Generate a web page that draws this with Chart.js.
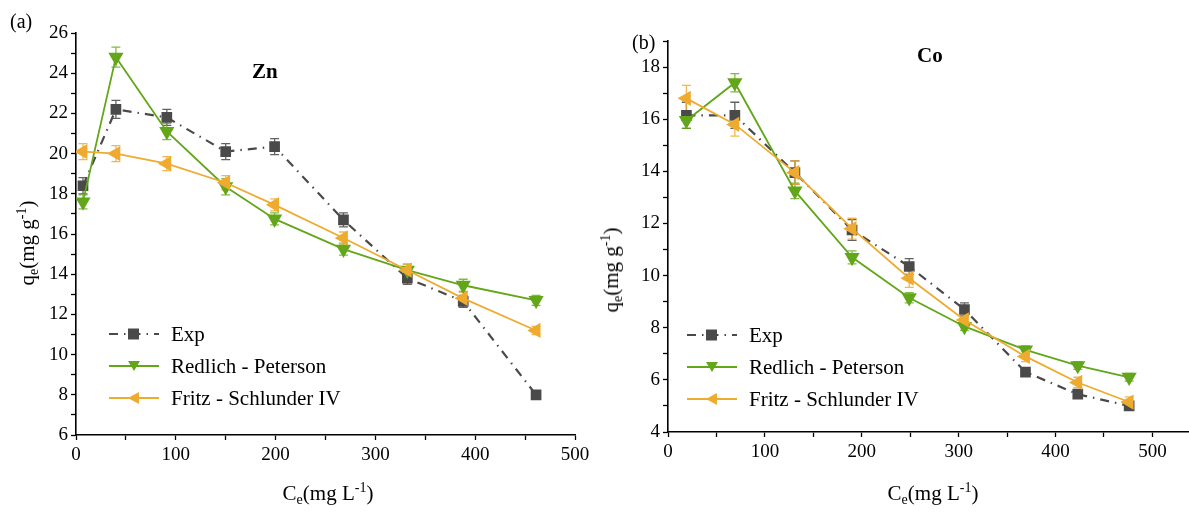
<!DOCTYPE html>
<html>
<head>
<meta charset="utf-8">
<script src="https://cdn.jsdelivr.net/npm/chart.js@4.4.1/dist/chart.umd.min.js"></script>
<style>
  body { margin: 0; background: #fff; width: 1189px; height: 512px; overflow: hidden; position: relative; font-family: "Liberation Serif", "DejaVu Serif", serif; }
  .panel { position: absolute; top: 0; }
  .txt { position: absolute; color: #000; white-space: nowrap; font-family: "Liberation Serif", serif; }
  .ttl { font-weight: bold; font-size: 21px; }
  .ax { font-size: 21px; }
  .ax sub { font-size: 14px; vertical-align: -4px; }
  .ax sup { font-size: 14px; vertical-align: 8px; }
  .leg { position: absolute; font-size: 21px; }
  .leg div { height: 32px; display: flex; align-items: center; }
  .leg svg { margin-right: 12px; }
</style>
</head>
<body>
<div class="panel" style="left:0"><canvas id="zn" width="600" height="512"></canvas></div>
<div class="panel" style="left:600px"><canvas id="co" width="598" height="512"></canvas></div>

<div class="txt" style="left:10px;top:10px;font-size:20px">(a)</div>
<div class="txt" style="left:632px;top:31px;font-size:20px">(b)</div>
<div class="txt ttl" style="left:252px;top:59px">Zn</div>
<div class="txt ttl" style="left:917px;top:43px">Co</div>

<div class="txt ax" style="left:28px;top:243px;transform:translate(-50%,-50%) rotate(-90deg)">q<sub>e</sub>(mg g<sup>-1</sup>)</div>
<div class="txt ax" style="left:612px;top:270px;transform:translate(-50%,-50%) rotate(-90deg)">q<sub>e</sub>(mg g<sup>-1</sup>)</div>
<div class="txt ax" style="left:328px;top:494px;transform:translate(-50%,-50%)">C<sub>e</sub>(mg L<sup>-1</sup>)</div>
<div class="txt ax" style="left:933px;top:494px;transform:translate(-50%,-50%)">C<sub>e</sub>(mg L<sup>-1</sup>)</div>

<div class="leg" id="legZn" style="left:109px;top:318px"></div>
<div class="leg" id="legCo" style="left:687px;top:319px"></div>

<script>
// Zn panel
const znCe = [7, 40, 91, 150, 199, 268, 332, 388, 461];
const znExp = [18.4, 22.2, 21.8, 20.1, 20.35, 16.7, 13.8, 12.65, 8.0];
const znExpErr = [0.4, 0.45, 0.4, 0.4, 0.4, 0.35, 0.3, 0.3, 0.2];
const znRP = [17.6, 24.8, 21.1, 18.35, 16.75, 15.25, 14.2, 13.45, 12.7];
const znRPErr = [0.35, 0.5, 0.4, 0.4, 0.3, 0.3, 0.3, 0.3, 0.25];
const znFS = [20.1, 20.0, 19.5, 18.55, 17.45, 15.8, 14.2, 12.8, 11.2];
const znFSErr = [0.4, 0.4, 0.35, 0.35, 0.3, 0.3, 0.3, 0.3, 0.2];

// Co panel
const coCe = [19, 69, 131, 190, 249, 306, 369, 423, 476];
const coExp = [16.15, 16.15, 13.95, 11.75, 10.35, 8.7, 6.3, 5.45, 5.0];
const coExpErr = [0.5, 0.5, 0.45, 0.4, 0.3, 0.25, 0.15, 0.15, 0.15];
const coRP = [15.95, 17.4, 13.25, 10.7, 9.15, 8.05, 7.15, 6.55, 6.1];
const coRPErr = [0.3, 0.35, 0.3, 0.25, 0.2, 0.15, 0.15, 0.15, 0.15];
const coFS = [16.8, 15.8, 13.95, 11.8, 9.9, 8.3, 6.9, 5.9, 5.15];
const coFSErr = [0.5, 0.45, 0.45, 0.4, 0.35, 0.25, 0.2, 0.2, 0.2];

const labels = ['Exp', 'Redlich - Peterson', 'Fritz - Schlunder IV'];
const GRAY = '#4a4a4a', GREEN = '#62a61a', ORANGE = '#eeab30';

const errorBars = {
  id: 'errorBars',
  beforeDatasetsDraw(chart) {
    const ctx = chart.ctx, y = chart.scales.y;
    chart.data.datasets.forEach((ds, i) => {
      const meta = chart.getDatasetMeta(i);
      ctx.save();
      ctx.strokeStyle = ds.errColor;
      ctx.lineWidth = 1.3;
      meta.data.forEach((pt, j) => {
        const v = ds.data[j].y, e = ds.errs[j];
        const top = y.getPixelForValue(v + e), bot = y.getPixelForValue(v - e);
        ctx.beginPath();
        ctx.moveTo(pt.x, top); ctx.lineTo(pt.x, bot);
        ctx.moveTo(pt.x - 4.5, top); ctx.lineTo(pt.x + 4.5, top);
        ctx.moveTo(pt.x - 4.5, bot); ctx.lineTo(pt.x + 4.5, bot);
        ctx.stroke();
      });
      ctx.restore();
    });
  }
};

function pts(xs, ys) { return xs.map((x, i) => ({ x, y: ys[i] })); }

function makeChart(id, xs, exp, expE, rp, rpE, fs, fsE, o) {
  const font = { family: 'Liberation Serif', size: 19 };
  new Chart(document.getElementById(id), {
    type: 'line',
    data: {
      datasets: [
        { label: labels[0], data: pts(xs, exp), errs: expE, errColor: 'rgba(70,70,70,0.85)',
          borderColor: GRAY, backgroundColor: GRAY, borderWidth: 2.2, borderDash: [9, 6, 1.5, 6],
          pointStyle: 'rect', pointRadius: 6, order: 3 },
        { label: labels[1], data: pts(xs, rp), errs: rpE, errColor: 'rgba(98,166,26,0.8)',
          borderColor: GREEN, backgroundColor: GREEN, borderWidth: 1.8,
          pointStyle: 'triangle', pointRotation: 180, pointRadius: 7, order: 2 },
        { label: labels[2], data: pts(xs, fs), errs: fsE, errColor: 'rgba(238,171,48,0.85)',
          borderColor: ORANGE, backgroundColor: ORANGE, borderWidth: 1.8,
          pointStyle: 'triangle', pointRotation: -90, pointRadius: 7, order: 1 }
      ]
    },
    options: {
      responsive: false, animation: false,
      layout: { padding: { top: o.top, right: o.right, left: 0, bottom: 0 } },
      plugins: { legend: { display: false }, tooltip: { enabled: false } },
      scales: {
        x: {
          type: 'linear', min: 0, max: o.xmax,
          afterBuildTicks: s => { s.ticks = s.ticks.filter(t => t.value % 50 === 0); },
          afterFit: s => { s.height = o.xh; },
          ticks: { stepSize: 50, includeBounds: false, autoSkip: false, maxRotation: 0, color: '#000', font, padding: 4,
            callback: v => v % 100 === 0 ? v : '' },
          grid: { drawOnChartArea: false, tickLength: 5, tickColor: '#000', tickWidth: 1.3 },
          border: { color: '#000', width: 1.6 }
        },
        y: {
          min: o.ymin, max: o.ymax,
          afterBuildTicks: s => { s.ticks = s.ticks.filter(t => Number.isInteger(t.value)); },
          afterFit: s => { s.width = o.yw; },
          ticks: { stepSize: 1, autoSkip: false, color: '#000', font, padding: 3,
            callback: v => v % 2 === 0 ? v : '' },
          grid: { drawOnChartArea: false, tickLength: 5, tickColor: '#000', tickWidth: 1.3 },
          border: { color: '#000', width: 1.6 }
        }
      }
    },
    plugins: [errorBars]
  });
}

makeChart('zn', znCe, znExp, znExpErr, znRP, znRPErr, znFS, znFSErr,
  { top: 33, right: 25, xmax: 500, ymin: 6, ymax: 26, xh: 77, yw: 76 });
makeChart('co', coCe, coExp, coExpErr, coRP, coRPErr, coFS, coFSErr,
  { top: 41, right: 0, xmax: 538, ymin: 4, ymax: 19, xh: 80, yw: 68 });

function legend(el) {
  const items = [
    `<svg width="50" height="14"><line x1="0" y1="7" x2="50" y2="7" stroke="${GRAY}" stroke-width="2.2" stroke-dasharray="9 6 1.5 6"/><rect x="19" y="1.5" width="11" height="11" fill="${GRAY}"/></svg>`,
    `<svg width="50" height="14"><line x1="0" y1="7" x2="50" y2="7" stroke="${GREEN}" stroke-width="1.8"/><polygon points="19,2 31,2 25,12" fill="${GREEN}"/></svg>`,
    `<svg width="50" height="14"><line x1="0" y1="7" x2="50" y2="7" stroke="${ORANGE}" stroke-width="1.8"/><polygon points="19,7 30,1 30,13" fill="${ORANGE}"/></svg>`
  ];
  document.getElementById(el).innerHTML = items.map((s, i) => `<div>${s}<span>${labels[i]}</span></div>`).join('');
}
legend('legZn');
legend('legCo');
</script>
</body>
</html>
